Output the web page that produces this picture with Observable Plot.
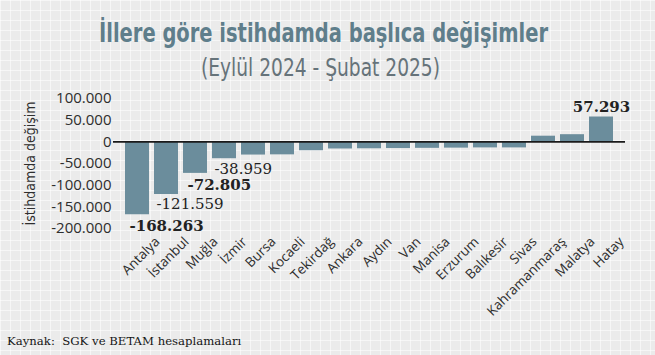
<!DOCTYPE html>
<html><head><meta charset="utf-8">
<script src="https://cdn.jsdelivr.net/npm/d3@7"></script>
<script src="https://cdn.jsdelivr.net/npm/@observablehq/plot@0.6"></script>
<style>
html,body{margin:0;padding:0;background:#fff;}
#wrap{position:relative;width:655px;height:355px;overflow:hidden;background-color:#ebebeb;
background-image:linear-gradient(to right, rgba(255,255,255,0.55) 1px, transparent 1px),linear-gradient(to bottom, rgba(255,255,255,0.55) 1px, transparent 1px);
background-size:10px 10px;}
.head{position:absolute;white-space:nowrap;line-height:1;transform-origin:0 0;font-family:"DejaVu Sans Condensed","DejaVu Sans",sans-serif;}
#title{top:19px;font-weight:bold;font-size:27px;color:#5f7e8b;}
#subtitle{top:55px;font-size:25px;color:#66737a;}
#caption{position:absolute;left:7px;top:334px;font-size:11.7px;font-family:"DejaVu Serif",serif;color:#151515;line-height:normal;white-space:nowrap;}
#chart{position:absolute;left:0;top:0;}
#chart svg{overflow:visible;}
</style>
</head><body>
<div id="wrap">
<div id="chart"></div>
<span id="title" class="head">İllere göre istihdamda başlıca değişimler</span>
<span id="subtitle" class="head">(Eylül 2024 - Şubat 2025)</span>
<div id="caption">Kaynak:&nbsp; SGK ve BETAM hesaplamaları</div>
</div>
<script>
const cities = ["Antalya","İstanbul","Muğla","İzmir","Bursa","Kocaeli","Tekirdağ","Ankara","Aydın","Van","Manisa","Erzurum","Balıkesir","Sivas","Kahramanmaraş","Malatya","Hatay"];
const values = [-168263,-121559,-72805,-38959,-30500,-30000,-20500,-16500,-16000,-15500,-15000,-14500,-14000,-14000,13000,16500,57293];
const yTicks = [100000,50000,0,-50000,-100000,-150000,-200000];
const labelCities = ["Antalya","İstanbul","Muğla","İzmir","Hatay"];
const labelBold = [true,false,true,false,true];

const data = cities.map((c,i)=>({city:c, value:values[i]}));
const fmt = d3.formatLocale({decimal:",", thousands:".", grouping:[3], currency:["",""], minus:"-"}).format(",");
const labels = labelCities.map((c,i)=>({city:c, value:values[cities.indexOf(c)], bold:labelBold[i]}));

const serif = "DejaVu Serif";
const chart = Plot.plot({
  width:655, height:355,
  marginLeft:117, marginRight:35, marginTop:98, marginBottom:127,
  style:{background:"transparent", overflow:"visible"},
  x:{domain:cities, padding:0.18, axis:null},
  y:{domain:[-200000,100000], axis:null},
  marks:[
    Plot.barY(data,{x:"city", y:"value", fill:"#6b8d9c"}),
    Plot.ruleY([0],{stroke:"#1a1a1a", strokeWidth:1.6, insetLeft:-4, insetRight:-5}),
    Plot.axisY(yTicks,{tickSize:0, tickPadding:6, tickFormat:fmt, fontSize:15, fontFamily:"Open Sans", fill:"#2e2e2e",
      label:"İstihdamda değişim", labelArrow:"none", labelAnchor:"center", labelOffset:92}),
    Plot.axisX({tickSize:0, tickRotate:-45, tickPadding:11, dx:20, fontSize:13.5, fontFamily:"Open Sans", fill:"#2e2e2e", label:null}),
    Plot.text(labels.filter(d=>d.value<0 && d.bold),{x:"city", y:"value", text:d=>fmt(d.value), textAnchor:"start", dx:-8, dy:11.5, fontWeight:"bold", fontFamily:serif, fontSize:15, fill:"#222"}),
    Plot.text(labels.filter(d=>d.value<0 && !d.bold),{x:"city", y:"value", text:d=>fmt(d.value), textAnchor:"start", dx:-10, dy:10, fontFamily:serif, fontSize:15, fill:"#222"}),
    Plot.text(labels.filter(d=>d.value>0),{x:"city", y:"value", text:d=>fmt(d.value), textAnchor:"middle", dy:-10, fontWeight:"bold", fontFamily:serif, fontSize:15, fill:"#222"})
  ]
});
document.getElementById("chart").appendChild(chart);
chart.querySelectorAll('g[aria-label="y-axis label"] text').forEach(t=>{
  t.textContent = t.textContent.replace(/[\s\u2191\u2193\u2192\u2190]+$/,"").replace(/^[\u2191\u2193\u2192\u2190\s]+/,"");
  t.setAttribute("font-family","DejaVu Sans Condensed, sans-serif");
  t.setAttribute("font-size","14");
});
function fit(id, targetW, centerX){
  const el = document.getElementById(id);
  const w = el.getBoundingClientRect().width;
  const s = targetW / w;
  el.style.left = (centerX - targetW/2) + "px";
  el.style.transform = "scaleX(" + s + ")";
}
fit("title", 449, 323.5);
fit("subtitle", 239, 320.5);
</script>
</body></html>
